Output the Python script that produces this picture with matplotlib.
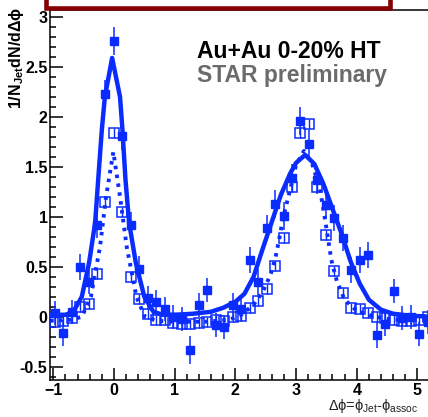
import matplotlib
matplotlib.use('Agg')
import matplotlib.pyplot as plt
from matplotlib.patches import Rectangle
from matplotlib.ticker import MultipleLocator

plt.rcParams['font.family'] = ['Liberation Sans', 'DejaVu Sans']
plt.rcParams['mathtext.fontset'] = 'custom'
plt.rcParams['mathtext.rm'] = 'Liberation Sans'
plt.rcParams['mathtext.it'] = 'Liberation Sans'
plt.rcParams['mathtext.bf'] = 'Liberation Sans:bold'

# bin centres (delta phi)
dphi = [-0.977, -0.838, -0.698, -0.559, -0.419, -0.279, -0.140, 0.000, 0.140,
        0.279, 0.419, 0.559, 0.698, 0.838, 0.977, 1.117, 1.257, 1.396, 1.536,
        1.676, 1.815, 1.955, 2.094, 2.234, 2.374, 2.513, 2.653, 2.793, 2.932,
        3.072, 3.211, 3.351, 3.491, 3.630, 3.770, 3.910, 4.049, 4.189, 4.328,
        4.468, 4.608, 4.747, 4.887, 5.027, 5.166]

# filled squares
filled_y = [0.04, -0.16, 0.05, 0.50, 0.35, 0.92, 2.23, 2.76, 1.81,
            0.92, 0.48, 0.19, 0.15, 0.08, 0.00, -0.02, -0.33, 0.12, 0.27,
            -0.08, -0.10, 0.12, 0.08, 0.57, 0.35, 0.89, 1.13, 1.01, 1.39,
            1.96, 1.73, 1.37, 1.12, 0.99, 0.79, 0.47, 0.57, 0.62, -0.18,
            -0.07, 0.26, -0.01, 0.00, -0.17, -0.05]
filled_err = [0.12, 0.13, 0.12, 0.13, 0.12, 0.13, 0.14, 0.14, 0.14,
              0.13, 0.13, 0.12, 0.12, 0.12, 0.12, 0.12, 0.14, 0.12, 0.12,
              0.12, 0.12, 0.12, 0.12, 0.13, 0.13, 0.13, 0.14, 0.14, 0.14,
              0.14, 0.14, 0.14, 0.14, 0.13, 0.13, 0.13, 0.13, 0.13, 0.13,
              0.12, 0.12, 0.12, 0.12, 0.12, 0.12]

# open squares
open_y = [-0.05, -0.04, -0.01, 0.10, 0.13, 0.43, 1.15, 1.84, 1.05,
          0.40, 0.18, 0.03, -0.03, -0.03, -0.06, -0.07, -0.07, -0.06, -0.05,
          -0.03, -0.04, 0.00, 0.01, 0.09, 0.16, 0.28, 0.51, 0.79, 1.30,
          1.84, 1.93, 1.30, 0.82, 0.46, 0.24, 0.09, 0.08, 0.04, 0.00,
          -0.01, -0.03, -0.04, -0.04, -0.03, 0.00]
open_err = [0.05] * len(open_y)

# fit curves
solid_x = [-1.05, -0.80, -0.67, -0.53, -0.41, -0.31, -0.26, -0.20, -0.15, -0.03,
           0.10, 0.14, 0.19, 0.25, 0.36, 0.50, 0.65, 0.80, 1.00, 1.30, 1.60,
           1.80, 2.00, 2.15, 2.30, 2.45, 2.60, 2.75, 2.90, 3.00, 3.15, 3.30,
           3.45, 3.60, 3.75, 3.90, 4.05, 4.20, 4.40, 4.60, 4.90, 5.24]
solid_y = [0.02, 0.02, 0.05, 0.20, 0.54, 0.94, 1.37, 1.87, 2.20, 2.59,
           2.20, 1.87, 1.37, 0.94, 0.54, 0.20, 0.05, 0.02, 0.02, 0.03, 0.05,
           0.09, 0.15, 0.23, 0.40, 0.68, 0.95, 1.22, 1.43, 1.54, 1.62, 1.53,
           1.33, 1.08, 0.83, 0.55, 0.33, 0.17, 0.07, 0.03, 0.01, 0.00]

dotted_x = [-1.05, -0.70, -0.53, -0.38, -0.23, -0.13, -0.01, 0.10, 0.21, 0.37,
            0.51, 0.70, 1.00, 1.50, 1.90, 2.10, 2.30, 2.45, 2.58, 2.66, 2.72,
            2.79, 2.91, 3.00, 3.13, 3.27, 3.39, 3.47, 3.53, 3.58, 3.67, 3.80,
            4.00, 4.30, 4.60, 5.24]
dotted_y = [-0.04, -0.03, 0.00, 0.20, 0.70, 1.20, 1.65, 1.20, 0.70, 0.20,
            0.00, -0.04, -0.05, -0.05, -0.03, 0.02, 0.12, 0.25, 0.42, 0.59, 0.77,
            1.00, 1.29, 1.52, 1.66, 1.52, 1.29, 1.00, 0.77, 0.57, 0.36, 0.17,
            0.06, 0.00, -0.03, -0.03]

blue = '#0a2cff'

fig = plt.figure(figsize=(4.28, 4.17), dpi=100)
ax = fig.add_axes([50.4 / 428, 1 - 380 / 417, 381.4 / 428, 370 / 417])

ax.errorbar(dphi, open_y, yerr=open_err, fmt='s', ms=6.6, mfc='none', mec=blue,
            mew=1.1, ecolor=blue, elinewidth=1.0, capsize=0, zorder=3)
ax.errorbar(dphi, filled_y, yerr=filled_err, fmt='s', ms=6.3, mfc=blue, mec=blue,
            ecolor=blue, elinewidth=1.1, capsize=0, zorder=4)
ax.plot(solid_x, solid_y, color=blue, lw=3.2, solid_joinstyle='round', zorder=5)
ax.plot(dotted_x, dotted_y, color=blue, lw=2.8, ls=(0, (0.9, 1.4)), zorder=5)

ax.set_xlim(-1.047, 5.236)
ax.set_ylim(-0.633, 3.07)
ax.xaxis.set_major_locator(MultipleLocator(1))
ax.xaxis.set_minor_locator(MultipleLocator(0.2))
ax.yaxis.set_major_locator(MultipleLocator(0.5))
ax.yaxis.set_minor_locator(MultipleLocator(0.1))
ax.yaxis.set_major_formatter(plt.FuncFormatter(lambda v, p: f'{v:g}'))
ax.tick_params(which='both', direction='in', top=False, right=False, width=1.1)
ax.tick_params(which='major', length=9)
ax.tick_params(which='minor', length=4.5)
ax.tick_params(axis='x', pad=2)
ax.tick_params(axis='y', pad=2)
for lab in ax.get_xticklabels() + ax.get_yticklabels():
    lab.set_fontsize(11.5)
    lab.set_fontweight('bold')
for s in ax.spines.values():
    s.set_linewidth(1.1)

fig.text(197 / 428, 1 - 58 / 417, 'Au+Au 0-20% HT', fontsize=16.5,
         fontweight='bold', color='black', va='baseline', ha='left')
fig.text(197 / 428, 1 - 82 / 417, 'STAR preliminary', fontsize=16.5,
         fontweight='bold', color='#6b6b6b', va='baseline', ha='left')

fig.text(17 / 428, 1 - 7 / 417, r'1/N$_{\mathbf{Jet}}$dN/d$\mathbf{\Delta\phi}$',
         rotation=90, fontsize=11.5, fontweight='bold', ha='center', va='top')
fig.text(328 / 428, 1 - 410 / 417, r'$\Delta\phi$=$\phi_{Jet}$-$\phi_{assoc}$',
         fontsize=10.5, color='#222222', ha='left', va='baseline')

fig.patches.append(Rectangle((45.5 / 428, 1 - 7.5 / 417), (390 - 45.5) / 428, 0.1,
                             transform=fig.transFigure, facecolor='white',
                             edgecolor='#850000', lw=3.3, zorder=10))

fig.savefig('out.png', dpi=100)
